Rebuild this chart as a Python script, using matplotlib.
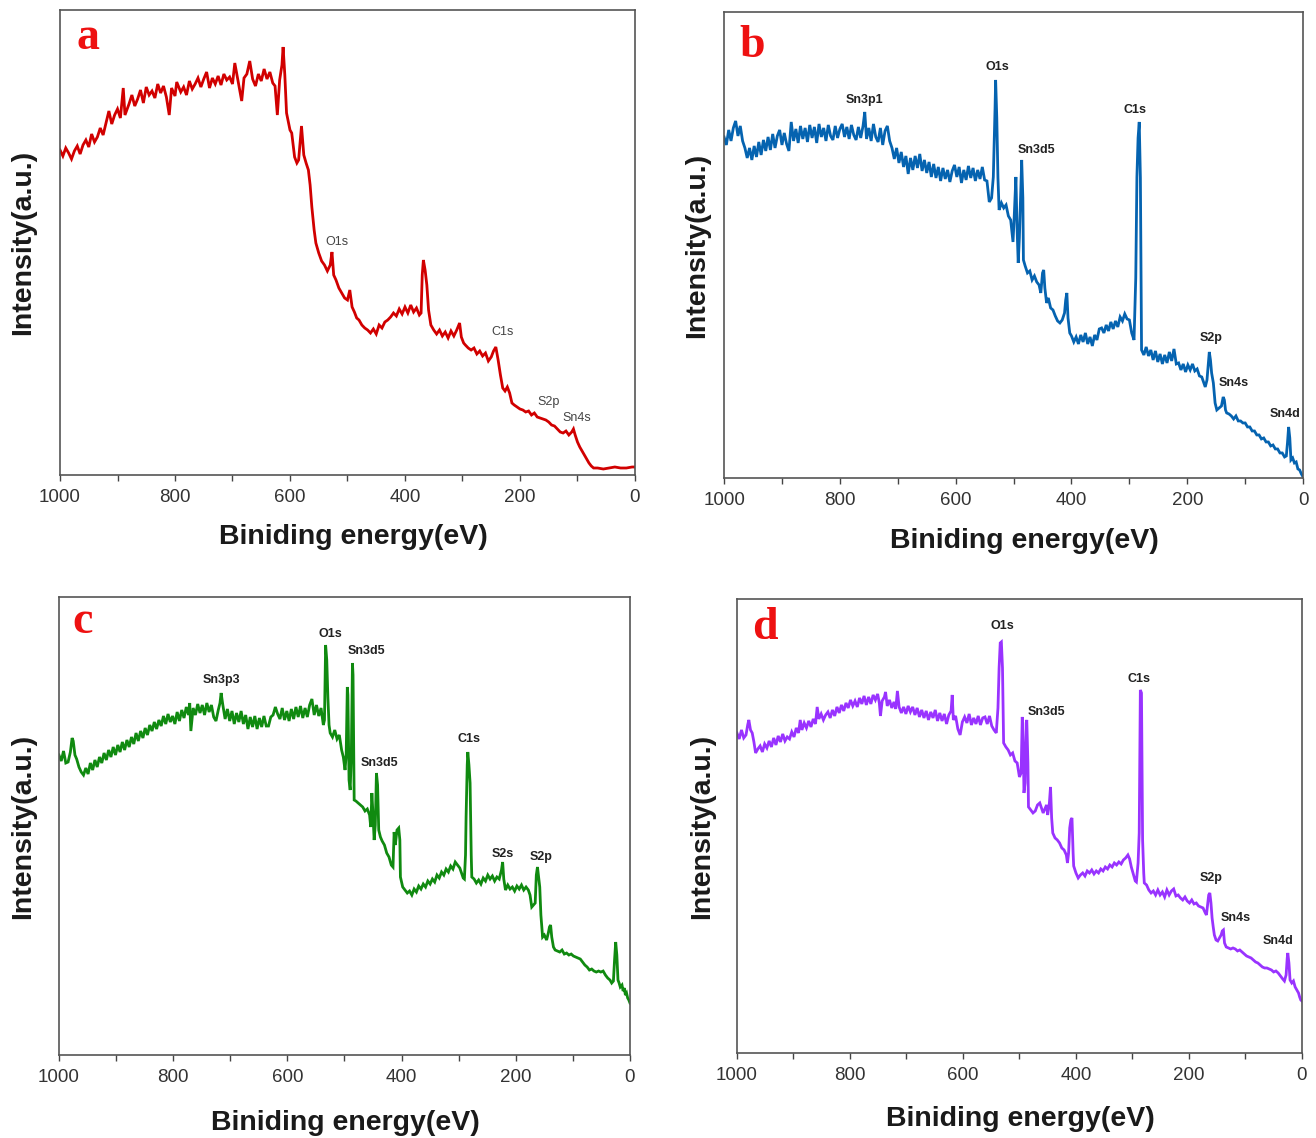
import matplotlib
matplotlib.use("Agg")
import matplotlib.pyplot as plt
from matplotlib.ticker import MultipleLocator

plt.rcParams["font.family"] = ["Liberation Sans", "DejaVu Sans"]

# XPS survey spectra, intensity in arbitrary units (counts above baseline)
a_energy = [1000, 995, 990, 985, 980, 975, 970, 965, 960, 955, 950, 945, 940, 935, 930, 925, 920, 915, 910, 905,
            900, 895, 890, 887, 880, 875, 870, 865, 860, 855, 850, 845, 840, 835, 830, 825, 820, 815, 810, 806,
            800, 797, 790, 785, 780, 775, 770, 765, 760, 755, 750, 745, 740, 735, 730, 725, 720, 715, 710, 705,
            700, 696, 690, 684, 680, 675, 670, 665, 660, 655, 650, 645, 640, 635, 630, 626, 622, 618, 614, 612,
            609, 606, 600, 597, 592, 588, 585, 580, 576, 572, 568, 565, 562, 558, 555, 550, 545, 540, 535, 530,
            527, 524, 520, 515, 510, 505, 500, 496, 492, 488, 484, 480, 475, 470, 465, 460, 455, 450, 445, 440,
            435, 430, 425, 420, 415, 410, 405, 400, 395, 390, 385, 380, 375, 372, 370, 368, 365, 362, 359, 355,
            350, 345, 340, 335, 330, 325, 320, 315, 310, 305, 302, 298, 295, 290, 285, 280, 275, 270, 265, 260,
            255, 250, 246, 242, 238, 234, 230, 226, 222, 218, 214, 210, 205, 200, 195, 190, 185, 180, 175, 170,
            165, 160, 155, 150, 145, 140, 135, 130, 125, 120, 115, 110, 107, 104, 100, 96, 92, 88, 84, 80,
            76, 72, 65, 55, 45, 35, 25, 15, 5, 0]
a_counts = [325, 319, 327, 322, 316, 324, 329, 321, 330, 335, 328, 341, 333, 338, 347, 340, 352, 364, 351, 360,
            366, 357, 387, 360, 371, 380, 369, 376, 385, 372, 388, 380, 384, 377, 391, 382, 389, 378, 360, 387,
            379, 393, 383, 388, 380, 394, 386, 391, 397, 388, 396, 403, 387, 397, 391, 399, 390, 401, 395, 398,
            391, 412, 393, 374, 397, 401, 414, 396, 389, 401, 394, 406, 396, 403, 392, 389, 360, 395, 410, 428,
            400, 362, 345, 342, 318, 312, 315, 349, 320, 312, 305, 290, 268, 245, 232, 222, 214, 210, 204, 210,
            223, 200, 195, 187, 182, 177, 175, 185, 168, 163, 157, 155, 150, 147, 145, 142, 146, 141, 150, 147,
            153, 155, 158, 162, 159, 166, 161, 168, 162, 170, 163, 167, 160, 162, 200, 215, 205, 190, 165, 150,
            145, 141, 145, 139, 143, 137, 144, 139, 145, 152, 138, 132, 130, 127, 125, 127, 121, 124, 119, 122,
            114, 118, 124, 128, 115, 100, 87, 84, 88, 82, 72, 70, 68, 66, 65, 63, 64, 60, 62, 58,
            57, 56, 55, 53, 50, 49, 46, 43, 42, 44, 40, 43, 46, 40, 33, 28, 24, 20, 16, 12,
            9, 7, 7, 6, 7, 8, 7, 7, 8, 8]

b_energy = [1000, 996, 992, 988, 984, 980, 976, 972, 968, 964, 960, 956, 952, 948, 944, 940, 936, 932, 928, 924,
            920, 916, 912, 908, 904, 900, 896, 892, 888, 884, 880, 876, 872, 868, 864, 860, 856, 852, 848, 844,
            840, 836, 832, 828, 824, 820, 816, 812, 808, 804, 800, 796, 792, 788, 784, 780, 776, 772, 768, 764,
            760, 757, 754, 750, 746, 742, 738, 734, 730, 726, 722, 718, 714, 710, 706, 702, 698, 694, 690, 686,
            682, 678, 674, 670, 666, 662, 658, 654, 650, 646, 642, 638, 634, 630, 626, 622, 618, 614, 610, 606,
            602, 598, 594, 590, 586, 582, 578, 574, 570, 566, 562, 558, 554, 550, 546, 542, 538, 535, 532, 531,
            529, 527, 525, 521, 517, 513, 509, 505, 501, 499, 496, 494, 492, 490, 487, 486, 484, 483, 480, 476,
            472, 468, 464, 460, 456, 453, 450, 448, 446, 443, 440, 436, 432, 428, 424, 420, 416, 412, 410, 408,
            406, 403, 400, 396, 392, 388, 384, 380, 376, 372, 368, 364, 360, 356, 352, 348, 344, 340, 336, 332,
            328, 324, 320, 316, 312, 308, 304, 300, 296, 292, 289, 287, 285, 283, 281, 280, 279, 275, 271, 267,
            263, 259, 255, 251, 247, 243, 239, 235, 231, 227, 223, 219, 215, 211, 207, 203, 199, 195, 191, 187,
            183, 179, 175, 172, 169, 166, 163, 162, 160, 158, 155, 152, 149, 145, 141, 138, 136, 134, 132, 128,
            124, 120, 116, 112, 108, 104, 100, 96, 92, 88, 84, 80, 76, 72, 68, 64, 60, 56, 52, 48,
            44, 40, 36, 32, 29, 27, 25, 23, 21, 18, 15, 12, 9, 6, 3, 1]
b_counts = [341, 333, 348, 337, 350, 357, 342, 352, 337, 330, 320, 330, 318, 332, 321, 336, 323, 338, 327, 341,
            328, 344, 330, 342, 348, 333, 345, 334, 327, 356, 337, 349, 335, 352, 339, 350, 336, 353, 340, 351,
            335, 354, 341, 350, 337, 353, 342, 338, 352, 340, 349, 354, 341, 351, 339, 353, 343, 338, 351, 340,
            352, 366, 339, 350, 337, 354, 341, 336, 350, 333, 347, 352, 337, 330, 319, 330, 315, 326, 311, 322,
            304, 320, 308, 322, 310, 324, 307, 318, 305, 316, 301, 314, 300, 311, 297, 310, 299, 308, 296, 307,
            313, 301, 311, 295, 308, 298, 312, 300, 310, 297, 308, 299, 311, 298, 297, 276, 280, 301, 370, 398,
            360, 300, 268, 275, 270, 273, 262, 258, 236, 260, 301, 250, 215, 240, 300, 318, 280, 218, 212, 205,
            207, 198, 202, 196, 193, 185, 205, 208, 190, 175, 180, 170, 168, 162, 157, 155, 158, 165, 178, 185,
            160, 145, 142, 136, 141, 134, 143, 136, 145, 134, 141, 132, 143, 138, 149, 150, 145, 153, 147, 156,
            149, 157, 151, 161, 157, 164, 159, 158, 145, 138, 200, 301, 340, 356, 300, 221, 128, 123, 131, 122,
            128, 118, 127, 116, 124, 114, 123, 115, 126, 117, 129, 114, 115, 108, 114, 106, 113, 108, 114, 107,
            109, 102, 101, 96, 91, 98, 120, 126, 118, 105, 95, 75, 68, 70, 72, 81, 78, 68, 65, 64,
            62, 59, 62, 57, 57, 55, 55, 51, 51, 47, 47, 43, 43, 39, 40, 36, 36, 32, 33, 29,
            29, 25, 25, 21, 22, 35, 51, 40, 18, 20, 15, 16, 9, 8, 4, 2]

c_energy = [1000, 996, 992, 988, 984, 980, 977, 975, 972, 969, 965, 961, 957, 953, 949, 945, 941, 937, 933, 929,
            925, 921, 917, 913, 909, 905, 901, 897, 893, 889, 885, 881, 877, 873, 869, 865, 861, 857, 853, 849,
            845, 841, 837, 833, 829, 825, 821, 817, 813, 809, 805, 801, 797, 793, 789, 785, 781, 777, 773, 771,
            769, 765, 761, 757, 753, 749, 745, 741, 737, 733, 729, 725, 721, 718, 716, 713, 709, 705, 701, 697,
            693, 689, 685, 681, 677, 673, 669, 665, 661, 657, 653, 649, 645, 641, 637, 633, 629, 625, 621, 617,
            613, 609, 605, 601, 597, 593, 589, 585, 581, 577, 573, 569, 565, 561, 557, 553, 549, 545, 541, 537,
            535, 533, 531, 529, 527, 525, 521, 517, 513, 509, 505, 502, 499, 497, 495, 494, 492, 490, 488, 486,
            485, 483, 480, 476, 472, 468, 464, 460, 456, 454, 452, 450, 448, 446, 444, 442, 440, 437, 434, 430,
            426, 422, 418, 415, 413, 411, 408, 405, 403, 402, 398, 394, 390, 386, 382, 378, 374, 370, 366, 362,
            358, 354, 350, 346, 342, 338, 334, 330, 326, 322, 318, 314, 310, 306, 302, 298, 295, 292, 290, 288,
            287, 285, 284, 282, 280, 278, 277, 273, 269, 265, 261, 257, 253, 249, 245, 241, 237, 233, 229, 225,
            223, 221, 218, 214, 210, 206, 202, 198, 194, 190, 186, 182, 178, 175, 172, 169, 166, 164, 162, 160,
            158, 156, 153, 150, 146, 143, 141, 139, 137, 134, 131, 127, 123, 119, 115, 111, 107, 103, 99, 95,
            91, 87, 83, 79, 75, 71, 67, 63, 59, 55, 51, 47, 43, 39, 35, 32, 29, 27, 25, 23,
            21, 19, 17, 14, 12, 10, 8, 6, 4, 2, 0]
c_counts = [300, 294, 304, 292, 293, 303, 317, 314, 300, 296, 288, 283, 280, 287, 281, 292, 285, 295, 288, 298,
            292, 302, 295, 305, 298, 308, 300, 310, 303, 313, 305, 315, 308, 318, 311, 322, 314, 324, 317, 327,
            320, 330, 324, 333, 326, 335, 329, 339, 331, 341, 333, 339, 331, 343, 334, 345, 337, 348, 340, 352,
            324, 347, 340, 351, 342, 350, 340, 352, 343, 350, 338, 334, 345, 352, 362, 350, 336, 346, 334, 344,
            331, 342, 333, 344, 331, 340, 326, 338, 328, 339, 326, 337, 328, 339, 329, 329, 338, 340, 348, 341,
            336, 347, 335, 344, 334, 346, 336, 348, 338, 349, 337, 347, 338, 350, 356, 340, 350, 339, 347, 330,
            335, 410, 395, 357, 330, 322, 318, 325, 316, 320, 305, 298, 285, 300, 368, 360, 275, 265, 300, 392,
            380, 255, 254, 252, 250, 248, 244, 246, 240, 228, 262, 240, 215, 230, 282, 270, 225, 218, 214, 210,
            202, 198, 190, 188, 223, 210, 225, 227, 215, 178, 168, 165, 162, 164, 160, 166, 163, 169, 166, 171,
            168, 174, 171, 176, 173, 180, 177, 183, 180, 186, 183, 189, 186, 193, 190, 187, 182, 177, 176, 200,
            238, 290, 303, 290, 272, 200, 178, 176, 172, 175, 171, 177, 174, 180, 176, 179, 174, 178, 176, 185,
            193, 176, 165, 170, 166, 168, 164, 169, 166, 170, 165, 168, 165, 160, 148, 150, 152, 180, 188, 178,
            168, 140, 118, 120, 115, 122, 128, 130, 118, 108, 105, 104, 103, 105, 101, 102, 100, 101, 99, 98,
            97, 96, 93, 90, 88, 85, 86, 84, 83, 84, 83, 84, 80, 77, 75, 72, 74, 95, 113, 100,
            75, 72, 68, 70, 64, 67, 60, 62, 57, 55, 52]

d_energy = [1000, 996, 992, 988, 984, 981, 979, 976, 973, 970, 967, 963, 959, 955, 951, 947, 943, 939, 935, 931,
            927, 923, 919, 915, 911, 907, 903, 899, 895, 891, 888, 885, 881, 877, 873, 869, 865, 861, 858, 855,
            851, 847, 843, 839, 835, 831, 827, 823, 819, 815, 811, 807, 803, 799, 795, 791, 787, 783, 779, 775,
            771, 767, 763, 759, 755, 751, 748, 746, 743, 739, 737, 734, 730, 726, 722, 719, 716, 713, 709, 705,
            701, 697, 693, 689, 685, 681, 677, 673, 669, 665, 661, 657, 653, 649, 645, 641, 637, 633, 629, 625,
            621, 619, 617, 613, 609, 605, 601, 597, 593, 589, 585, 581, 577, 573, 569, 565, 561, 557, 553, 549,
            545, 541, 538, 536, 534, 532, 530, 528, 524, 520, 516, 512, 508, 504, 500, 497, 495, 493, 492, 490,
            488, 487, 485, 484, 480, 476, 472, 468, 464, 461, 458, 455, 452, 450, 447, 445, 443, 441, 437, 433,
            429, 425, 421, 417, 415, 413, 411, 409, 407, 405, 404, 400, 396, 392, 388, 384, 380, 376, 372, 368,
            364, 360, 356, 352, 348, 344, 340, 336, 332, 328, 324, 320, 316, 312, 308, 305, 302, 298, 295, 293,
            290, 288, 286, 284, 282, 280, 279, 275, 271, 267, 263, 259, 255, 251, 247, 243, 239, 235, 231, 227,
            223, 219, 215, 211, 207, 203, 199, 195, 191, 187, 183, 179, 175, 171, 169, 167, 165, 163, 161, 159,
            157, 155, 152, 149, 146, 143, 141, 139, 137, 134, 130, 126, 122, 118, 114, 110, 106, 102, 98, 94,
            90, 86, 82, 78, 74, 70, 66, 62, 58, 54, 50, 46, 42, 38, 34, 31, 28, 26, 25, 23,
            21, 18, 15, 12, 9, 6, 4, 2, 0]
d_counts = [320, 314, 323, 315, 318, 328, 333, 323, 320, 311, 300, 304, 307, 301, 309, 305, 312, 306, 315, 308,
            317, 311, 319, 312, 316, 314, 321, 316, 325, 320, 333, 323, 330, 325, 332, 326, 334, 329, 346, 334,
            339, 333, 338, 341, 335, 343, 337, 346, 340, 348, 342, 350, 345, 353, 347, 352, 346, 355, 349, 357,
            348, 356, 349, 358, 353, 359, 350, 337, 352, 356, 361, 347, 353, 345, 351, 344, 362, 346, 340, 346,
            339, 347, 341, 346, 338, 345, 336, 343, 335, 342, 333, 341, 335, 343, 332, 340, 332, 339, 329, 338,
            342, 358, 333, 337, 324, 318, 331, 336, 330, 339, 328, 335, 329, 337, 328, 335, 336, 329, 337, 327,
            323, 320, 345, 385, 410, 411, 385, 310, 306, 303, 298, 300, 292, 290, 276, 280, 336, 300, 260, 270,
            330, 333, 290, 246, 243, 240, 242, 248, 250, 245, 240, 244, 248, 238, 250, 266, 235, 220, 215, 213,
            210, 205, 203, 198, 190, 200, 225, 233, 235, 200, 187, 180, 175, 178, 180, 177, 182, 180, 183, 179,
            182, 180, 184, 182, 186, 184, 188, 186, 190, 188, 191, 189, 193, 195, 198, 194, 186, 178, 172, 171,
            190, 220, 363, 360, 213, 180, 170, 168, 163, 160, 162, 158, 163, 158, 161, 156, 163, 158, 162, 164,
            157, 158, 155, 153, 156, 152, 150, 153, 149, 150, 147, 146, 145, 140, 138, 148, 158, 160, 150, 135,
            126, 118, 113, 112, 115, 118, 122, 123, 110, 106, 105, 104, 105, 104, 102, 103, 101, 99, 97, 96,
            95, 93, 91, 90, 88, 86, 85, 85, 84, 83, 81, 82, 80, 77, 74, 72, 78, 95, 100, 90,
            73, 70, 72, 66, 63, 60, 56, 53, 52]

# peak assignments: label, binding energy, label height
a_peaks = [("O1s", 518, 233), ("C1s", 230, 143), ("S2p", 150, 73), ("Sn4s", 101, 57)]
b_peaks = [("Sn3p1", 758, 378), ("O1s", 528, 411), ("Sn3d5", 461, 328), ("C1s", 290, 368),
           ("S2p", 159, 140), ("Sn4s", 119, 95), ("Sn4d", 31, 64)]
c_peaks = [("Sn3p3", 716, 375), ("O1s", 525, 421), ("Sn3d5", 461, 404), ("Sn3d5", 438, 292),
           ("C1s", 282, 316), ("S2s", 223, 201), ("S2p", 156, 198)]
d_peaks = [("O1s", 531, 427), ("Sn3d5", 453, 341), ("C1s", 288, 374), ("S2p", 161, 175),
           ("Sn4s", 117, 135), ("Sn4d", 42, 112)]

panels = [
    # letter, energy, counts, peaks, colour, axes rect, y top, ylabel x, xlabel pos, letter pos, bold peak labels
    ("a", a_energy, a_counts, a_peaks, "#d10000", [0.0456, 0.5826, 0.4369, 0.4086], 465,
     -0.042, (0.511, -0.105), (0.049, 0.940), False),
    ("b", b_energy, b_counts, b_peaks, "#0563b0", [0.5502, 0.5800, 0.4400, 0.4095], 466,
     -0.024, (0.518, -0.107), (0.048, 0.927), True),
    ("c", c_energy, c_counts, c_peaks, "#108a10", [0.0448, 0.0729, 0.4339, 0.4025], 458,
     -0.040, (0.501, -0.120), (0.042, 0.946), True),
    ("d", d_energy, d_counts, d_peaks, "#9933ff", [0.5600, 0.0747, 0.4293, 0.3990], 454,
     -0.039, (0.501, -0.116), (0.050, 0.936), True),
]

fig = plt.figure(figsize=(13.16, 11.38), dpi=100)

for letter, energy, counts, peaks, color, rect, ytop, ylab_x, xlab_pos, let_pos, bold in panels:
    ax = fig.add_axes(rect)
    ax.plot(energy, counts, color=color, lw=2.0, solid_joinstyle="miter")
    ax.set_xlim(1000, 0)
    ax.set_ylim(0, ytop)
    ax.set_yticks([])
    ax.xaxis.set_major_locator(MultipleLocator(200))
    ax.xaxis.set_minor_locator(MultipleLocator(100))
    ax.tick_params(axis="x", which="both", direction="out", length=4, width=1.0,
                   color="#444444", labelsize=13.5, labelcolor="#333333", pad=6)
    for sp in ax.spines.values():
        sp.set_color("#555555")
        sp.set_linewidth(1.2)

    ax.set_xlabel("Biniding energy(eV)", fontsize=20.5, fontweight="bold", color="#1a1a1a")
    ax.xaxis.set_label_coords(*xlab_pos)
    ax.set_ylabel("Intensity(a.u.)", fontsize=20.5, fontweight="bold", color="#1a1a1a")
    ax.yaxis.set_label_coords(ylab_x, 0.5)

    for name, ev, h in peaks:
        ax.text(ev, h, name, ha="center", va="center", fontsize=9,
                fontweight="bold" if bold else "normal",
                color="#222222" if bold else "#444444")

    ax.text(let_pos[0], let_pos[1], letter, transform=ax.transAxes, ha="center", va="center",
            fontsize=33, fontweight="bold", color="#ee1111", family="Liberation Serif")

fig.savefig("out.png", dpi=100)
